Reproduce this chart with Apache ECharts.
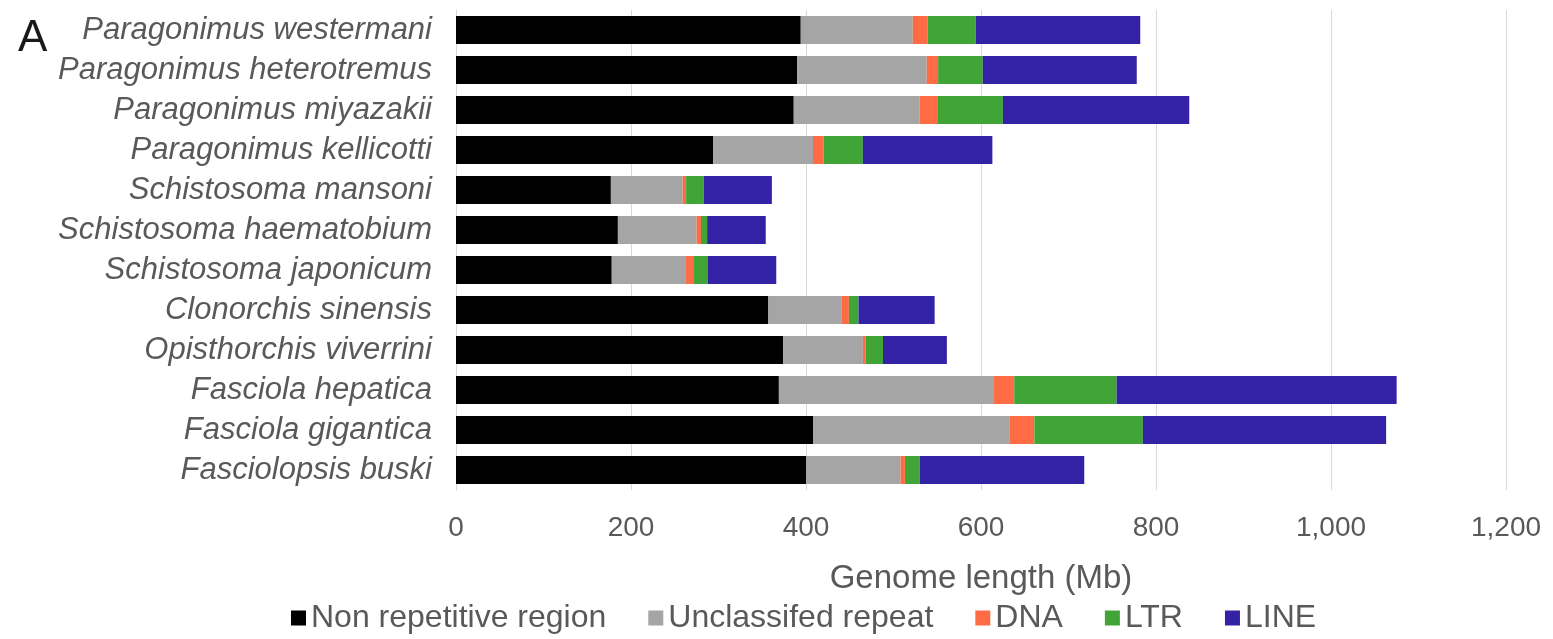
<!DOCTYPE html>
<html>
<head>
<meta charset="utf-8">
<script src="https://cdn.jsdelivr.net/npm/echarts@6/dist/echarts.min.js"></script>
<style>
html,body{margin:0;padding:0;background:#fff;}
#chart{width:1553px;height:639px;}
</style>
</head>
<body>
<div id="chart"></div>
<script>
const categories = [
  "Paragonimus westermani", "Paragonimus heterotremus", "Paragonimus miyazakii",
  "Paragonimus kellicotti", "Schistosoma mansoni", "Schistosoma haematobium",
  "Schistosoma japonicum", "Clonorchis sinensis", "Opisthorchis viverrini",
  "Fasciola hepatica", "Fasciola gigantica", "Fasciolopsis buski"
];
const seriesNames = ["Non repetitive region", "Unclassifed repeat", "DNA", "LTR", "LINE"];
const nonRepetitive = [394, 390, 386, 294, 177, 185, 178, 357, 374, 369, 408, 400];
const unclassified  = [128, 148, 144, 114, 82, 90, 84, 84, 91, 245, 225, 108];
const dna           = [17, 13, 20, 12, 4, 5, 10, 8, 3, 24, 28, 5];
const ltr           = [55, 51, 75, 45, 20, 7, 16, 11, 20, 117, 124, 17];
const line          = [188, 176, 213, 148, 78, 67, 78, 87, 73, 320, 278, 188];
const xTicks = { min: 0, max: 1200, interval: 200 };
const panelLabel = "A";
const axisName = "Genome length (Mb)";

const colors = ["#000000", "#a5a5a5", "#ff6b45", "#40a437", "#3322a6"];
const values = [nonRepetitive, unclassified, dna, ltr, line];

const chart = echarts.init(document.getElementById('chart'), null, { renderer: 'canvas' });
const font = "'Liberation Sans', Arial, sans-serif";
chart.setOption({
  animation: false,
  backgroundColor: '#ffffff',
  textStyle: { fontFamily: font },
  graphic: [{
    type: 'text', left: 18, top: 17,
    style: { text: panelLabel, fontSize: 44, fill: '#1a1a1a', fontFamily: font }
  }],
  legend: {
    data: seriesNames,
    bottom: 0,
    left: 286,
    icon: 'rect',
    itemWidth: 15, itemHeight: 15,
    itemGap: 42,
    textStyle: { fontSize: 32, color: '#595959', fontFamily: font }
  },
  grid: { left: 456, right: 47, top: 10, bottom: 149, containLabel: false },
  xAxis: {
    type: 'value',
    min: xTicks.min, max: xTicks.max, interval: xTicks.interval,
    name: axisName, nameLocation: 'middle', nameGap: 72,
    nameTextStyle: { fontSize: 33, color: '#595959', fontFamily: font },
    axisLine: { show: false }, axisTick: { show: false },
    axisLabel: { fontSize: 28, color: '#595959', margin: 24, fontFamily: font },
    splitLine: { lineStyle: { color: '#d9d9d9', width: 1 } }
  },
  yAxis: {
    type: 'category', data: categories, inverse: true,
    axisLine: { show: true, lineStyle: { color: '#d9d9d9' } },
    axisTick: { show: false },
    axisLabel: { interval: 0, fontSize: 31, fontStyle: 'italic', color: '#595959', margin: 24, fontFamily: font }
  },
  series: seriesNames.map((n, i) => ({
    name: n, type: 'bar', stack: 'total', barWidth: '70%',
    data: values[i],
    itemStyle: { color: colors[i] },
    emphasis: { disabled: true }
  }))
});
</script>
</body>
</html>
